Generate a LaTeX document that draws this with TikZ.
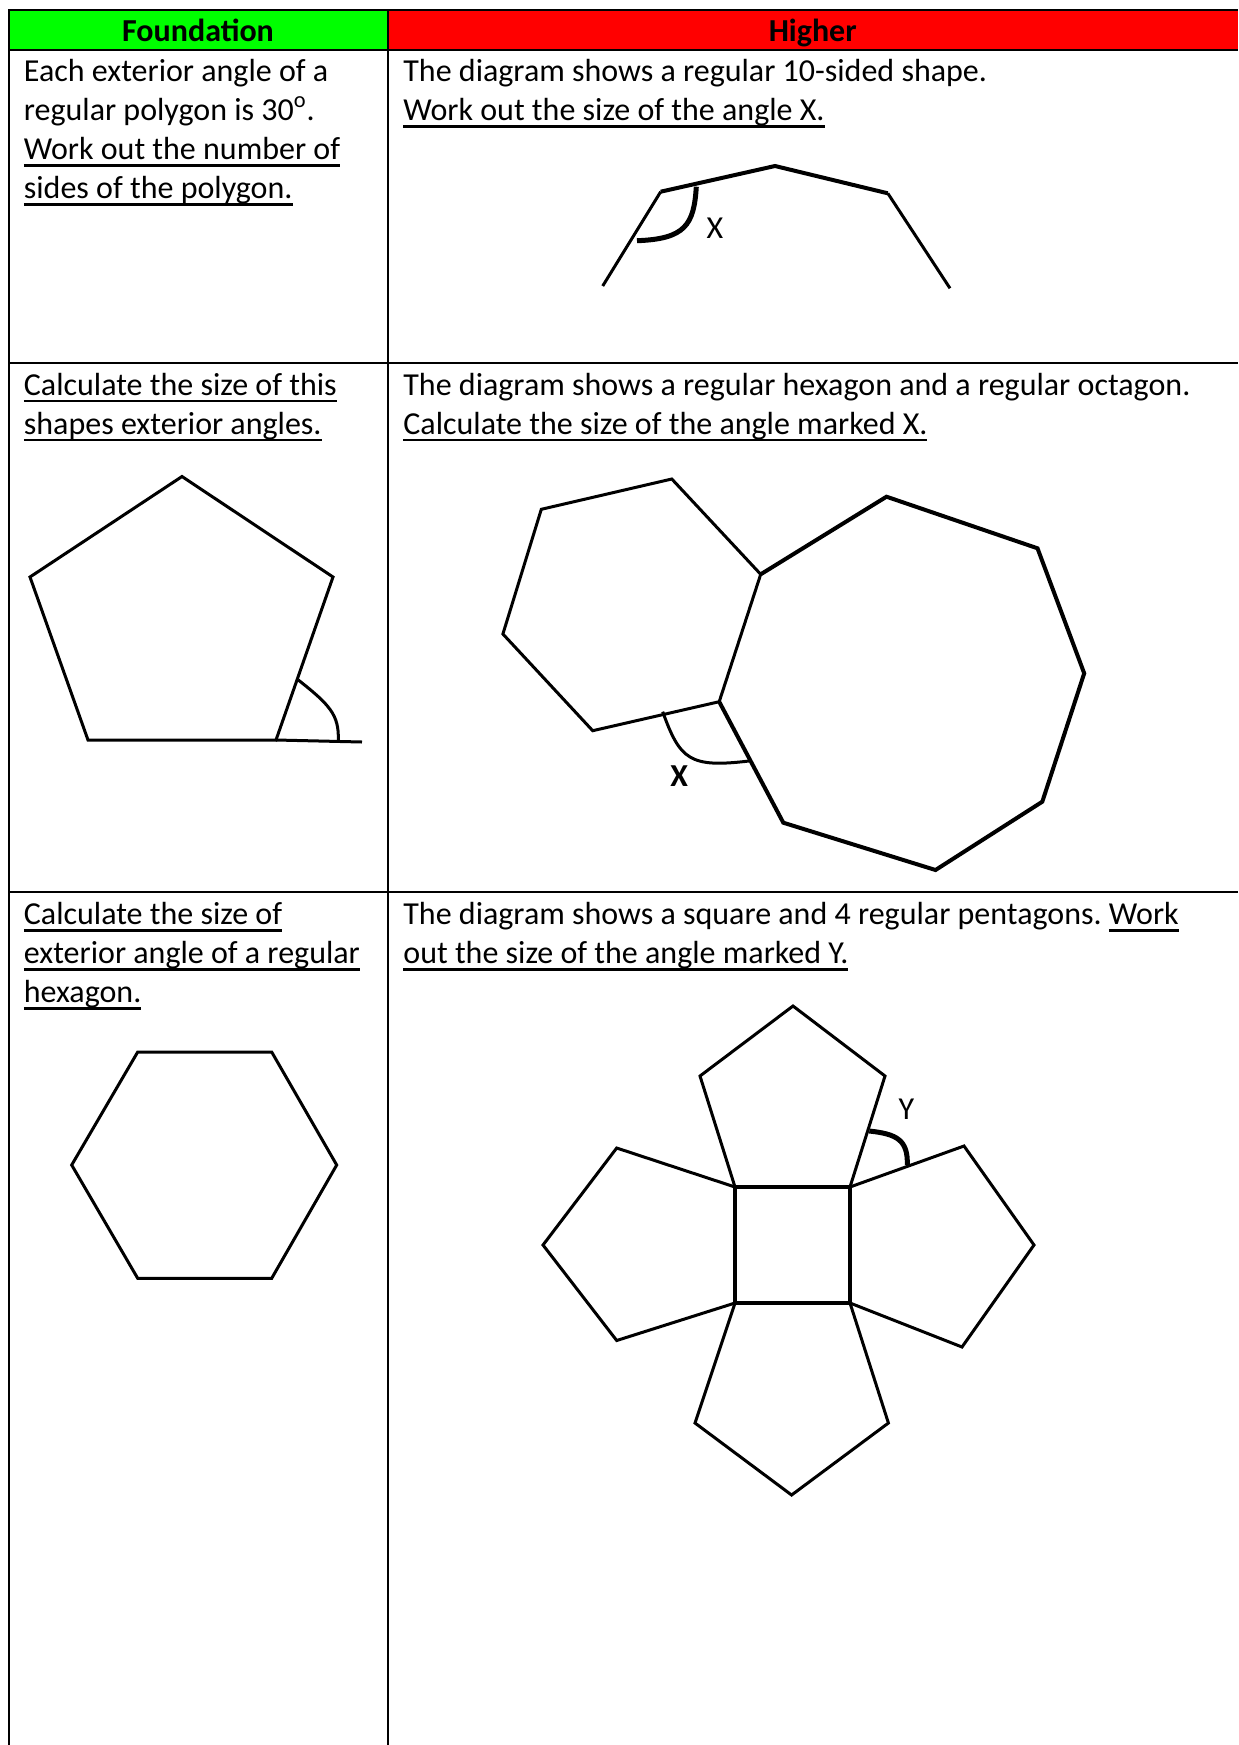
\documentclass[tikz,border=0pt]{standalone}
\usepackage{fontspec}
\setmainfont{Carlito}
\definecolor{foundgreen}{HTML}{00FF00}
\definecolor{highred}{HTML}{FF0000}
\newcommand{\qfont}{\fontsize{16}{19.3}\selectfont}
\newcommand{\uln}[1]{\setbox0\hbox{#1}\rlap{\rule[-3.7pt]{\wd0}{1.3pt}}\box0}
\frenchspacing

\begin{document}
\begin{tikzpicture}[x=0.5pt,y=-0.5pt,
  tabrule/.style={black,line width=1pt},
  qtext/.style={anchor=base west,inner sep=0pt,font=\qfont},
  headtxt/.style={anchor=base,inner sep=0pt,font=\qfont\bfseries},
  polyline/.style={line width=1.5pt,line join=miter},
  boldpoly/.style={line width=2pt,line join=miter},
  anglemark/.style={line width=1.5pt},
  boldmark/.style={line width=2.5pt},
  letter/.style={inner sep=0pt,font=\qfont}]
  \useasboundingbox (0,0) rectangle (1238,1745);
  % header cells
  \fill[foundgreen] (8.5,10) rectangle (387.5,49.5);
  \fill[highred] (387.5,10) rectangle (1238,49.5);
  % table rules
  \draw[tabrule] (8.5,1745) -- (8.5,10) -- (1238,10);
  \draw[tabrule] (387.5,10) -- (387.5,1745);
  \foreach \y in {49.5,363,892} \draw[tabrule] (8.5,\y) -- (1238,\y);
  \node[headtxt] (found) at (198,41) {Foundation};
  \node[headtxt] (higher) at (812.7,41) {Higher};

  % row 1
  \node[qtext] (f1a) at (23.5,81.5) {Each exterior angle of a};
  \node[qtext] (f1b) at (23.5,120.5) {regular polygon is 30\textsuperscript{o}.};
  \node[qtext] (f1c) at (23.5,159.5) {\uln{Work out the number of}};
  \node[qtext] (f1d) at (23.5,198.5) {\uln{sides of the polygon.}};
  \node[qtext] (h1a) at (403,81.5) {The diagram shows a regular 10-sided shape.};
  \node[qtext] (h1b) at (403,120.5) {\uln{Work out the size of the angle X.}};
  % part of the 10-sided shape
  \draw[polyline] (602.7,286) -- (660.7,191.7);
  \draw[boldpoly] (660.7,191.7) -- (775,166) -- (887.8,193.3);
  \draw[polyline] (887.8,193.3) -- (950,288.3);
  \draw[boldmark] (637,240.7) .. controls (685,239) and (694,225) .. (696.3,186.7);
  \node[letter] (xtop) at (715,228) {X};

  % row 2
  \node[qtext] (f2a) at (23.5,395) {\uln{Calculate the size of this}};
  \node[qtext] (f2b) at (23.5,434) {\uln{shapes exterior angles.}};
  \node[qtext] (h2a) at (403,395) {The diagram shows a regular hexagon and a regular octagon.};
  \node[qtext] (h2b) at (403,434) {\uln{Calculate the size of the angle marked X.}};
  % pentagon with exterior angle
  \draw[polyline] (182,476.5) -- (333,577) -- (276,740) -- (88,740) -- (30,577) -- cycle;
  \draw[polyline] (276,740) -- (362,742);
  \draw[anglemark] (298.3,680) .. controls (330,705) and (339,715) .. (338.3,740);
  % hexagon and octagon
  \coordinate (hx3) at (760.7,574.3);
  \coordinate (hx4) at (719.2,701.7);
  \draw[polyline] (hx3) -- (671.8,479) -- (541.3,509.3) -- (502.9,634) -- (592.7,730.7) -- (hx4) -- cycle;
  \draw[boldpoly] (hx3) -- (886.5,496.7) -- (1037.5,548.3) -- (1084.2,673.3) -- (1042.3,801.7)
    -- (935.5,870) -- (783.3,822.7) -- (hx4);
  \draw[anglemark] (662.7,711.7) .. controls (680,760) and (690,768) .. (749,761);
  \node[letter,font=\qfont\bfseries] (xmid) at (679.3,776) {X};

  % row 3
  \node[qtext] (f3a) at (23.5,924.5) {\uln{Calculate the size of}};
  \node[qtext] (f3b) at (23.5,963.5) {\uln{exterior angle of a regular}};
  \node[qtext] (f3c) at (23.5,1002.5) {\uln{hexagon.}};
  \node[qtext] (h3a) at (403,924.5) {The diagram shows a square and 4 regular pentagons. \uln{Work}};
  \node[qtext] (h3b) at (403,963.5) {\uln{out the size of the angle marked Y.}};
  % hexagon
  \draw[polyline] (137.7,1052) -- (271.7,1052) -- (336.7,1165) -- (271.7,1278.3) -- (137.7,1278.3) -- (71.7,1165) -- cycle;
  % square and 4 pentagons
  \coordinate (sqtl) at (735,1187);
  \coordinate (sqtr) at (850,1187);
  \coordinate (sqbr) at (850,1303);
  \coordinate (sqbl) at (735,1303);
  \draw[polyline] (sqtl) -- (700,1076) -- (793,1006) -- (885,1076) -- (sqtr);
  \draw[polyline] (sqtl) -- (616.7,1148) -- (543,1245) -- (616.7,1340.5) -- (sqbl);
  \draw[polyline] (sqtr) -- (964,1146) -- (1034,1245) -- (962,1347) -- (sqbr);
  \draw[polyline] (sqbl) -- (695,1423) -- (791.6,1495) -- (888.4,1423) -- (sqbr);
  \draw[boldpoly] (sqtl) rectangle (sqbr);
  \draw[boldmark] (869.3,1131) .. controls (897,1134) and (908,1140) .. (907.3,1165);
  \node[letter] (ylbl) at (906.3,1108.8) {Y};
\end{tikzpicture}
\end{document}
